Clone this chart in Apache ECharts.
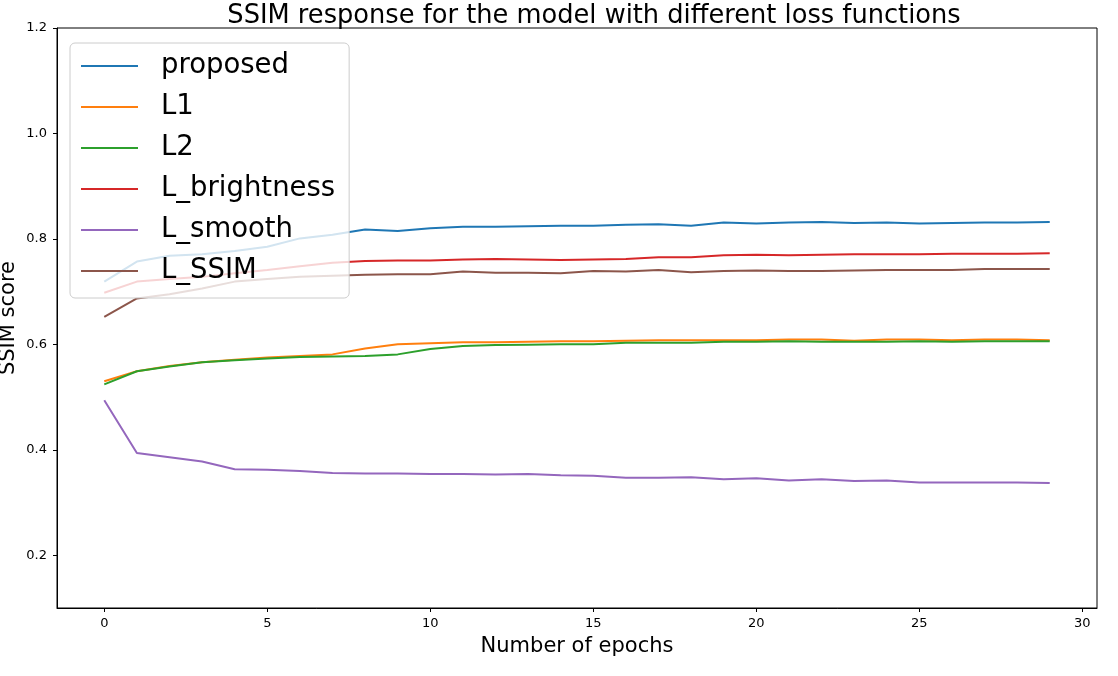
<!DOCTYPE html>
<html style="height: 100%">
<head>
<meta charset="utf-8">
</head>
<body style="margin: 0; background: #fff">
<div id="container" style="width: 1118px; height: 676px;"></div>
<script type="text/javascript" src="https://cdn.jsdelivr.net/npm/echarts@6.0.0/dist/echarts.min.js"></script>
<script type="text/javascript">
// epochs 0..29
var epochs = [0,1,2,3,4,5,6,7,8,9,10,11,12,13,14,15,16,17,18,19,20,21,22,23,24,25,26,27,28,29];

var proposed = [0.719,0.757,0.768,0.771,0.777,0.785,0.801,0.808,0.818,0.815,0.820,0.823,0.823,0.824,0.825,0.825,0.827,0.828,0.825,0.831,0.829,0.831,0.832,0.830,0.831,0.829,0.830,0.831,0.831,0.832];
var l1 = [0.530,0.549,0.559,0.566,0.571,0.575,0.578,0.581,0.592,0.600,0.602,0.604,0.604,0.605,0.606,0.606,0.607,0.608,0.608,0.608,0.608,0.609,0.609,0.607,0.609,0.609,0.608,0.609,0.609,0.608];
var l2 = [0.524,0.549,0.558,0.566,0.570,0.573,0.576,0.577,0.578,0.581,0.591,0.597,0.599,0.5995,0.600,0.600,0.603,0.603,0.603,0.605,0.605,0.606,0.605,0.605,0.605,0.606,0.605,0.606,0.606,0.606];
var lBright = [0.698,0.719,0.724,0.728,0.735,0.741,0.748,0.755,0.758,0.759,0.759,0.761,0.762,0.761,0.760,0.761,0.762,0.765,0.765,0.769,0.770,0.769,0.770,0.771,0.771,0.771,0.772,0.772,0.772,0.773];
var lSmooth = [0.494,0.394,0.386,0.378,0.363,0.362,0.360,0.356,0.355,0.355,0.354,0.354,0.353,0.354,0.352,0.351,0.347,0.347,0.348,0.344,0.346,0.342,0.344,0.341,0.342,0.338,0.338,0.338,0.338,0.337];
var lSsim = [0.652,0.687,0.695,0.706,0.719,0.724,0.728,0.730,0.732,0.733,0.733,0.738,0.736,0.736,0.735,0.739,0.738,0.741,0.737,0.739,0.740,0.739,0.739,0.740,0.741,0.741,0.741,0.743,0.743,0.743];

var names = ['proposed', 'L1', 'L2', 'L_brightness', 'L_smooth', 'L_SSIM'];
var values = [proposed, l1, l2, lBright, lSmooth, lSsim];
var colors = ['#1f77b4', '#ff7f0e', '#2ca02c', '#d62728', '#9467bd', '#8c564b'];

var xTicks = [0, 5, 10, 15, 20, 25, 30];
var yTicks = [0.2, 0.4, 0.6, 0.8, 1.0, 1.2];

var font = 'DejaVu Sans';

var series = names.map(function (n, k) {
    return {
        name: n,
        type: 'line',
        showSymbol: false,
        animation: false,
        lineStyle: { width: 2, color: colors[k] },
        itemStyle: { color: colors[k] },
        data: epochs.map(function (e, i) { return [e, values[k][i]]; })
    };
});

var dom = document.getElementById("container");
var myChart = echarts.init(dom);

var option = {
    animation: false,
    title: {
        text: 'SSIM response for the model with different loss functions',
        left: 589,
        textAlign: 'center',
        top: -2,
        textStyle: { fontFamily: font, fontSize: 25.7, fontWeight: 'normal', color: '#000' }
    },
    legend: {
        data: names,
        orient: 'vertical',
        left: 70,
        top: 43,
        padding: [9, 14, 13, 11],
        itemGap: 13,
        itemWidth: 57,
        itemHeight: 2,
        icon: 'rect',
        backgroundColor: 'rgba(255,255,255,0.8)',
        borderColor: '#cccccc',
        borderWidth: 1,
        borderRadius: 5,
        textStyle: { fontFamily: font, fontSize: 27.5, color: '#000', padding: [0, 0, 0, 18] }
    },
    grid: {
        left: 57,
        right: 21,
        top: 28,
        bottom: 68,
        show: true,
        borderColor: '#000',
        borderWidth: 1,
        containLabel: false,
        outerBoundsMode: 'none'
    },
    xAxis: {
        type: 'value',
        min: -1.45,
        max: 30.45,
        name: 'Number of epochs',
        nameLocation: 'middle',
        nameGap: 28,
        nameMoveOverlap: false,
        nameTextStyle: { fontFamily: font, fontSize: 21, color: '#000' },
        axisLine: { show: true, onZero: false, lineStyle: { color: '#000', width: 1 } },
        axisTick: { show: true, length: 4, lineStyle: { color: '#000' }, customValues: xTicks },
        axisLabel: { fontFamily: font, fontSize: 13, color: '#000', margin: 9, customValues: xTicks },
        splitLine: { show: false }
    },
    yAxis: {
        type: 'value',
        min: 0.1,
        max: 1.2,
        name: 'SSIM score',
        nameLocation: 'middle',
        nameGap: 38,
        nameMoveOverlap: false,
        nameTextStyle: { fontFamily: font, fontSize: 21, color: '#000' },
        axisLine: { show: true, onZero: false, lineStyle: { color: '#000', width: 1 } },
        axisTick: { show: true, length: 4, lineStyle: { color: '#000' }, customValues: yTicks },
        axisLabel: {
            fontFamily: font, fontSize: 13, color: '#000', margin: 10, customValues: yTicks,
            formatter: function (v) { return v.toFixed(1); }
        },
        splitLine: { show: false }
    },
    series: series
};

myChart.setOption(option, true);
</script>
</body>
</html>
